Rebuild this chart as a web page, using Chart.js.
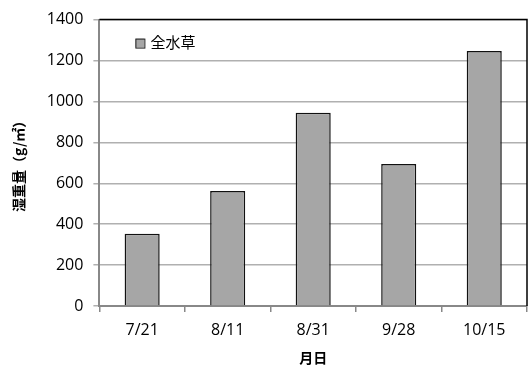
<!DOCTYPE html>
<html>
<head>
<meta charset="utf-8">
<script src="https://cdn.jsdelivr.net/npm/chart.js@4/dist/chart.umd.min.js"></script>
<style>
  html, body { margin: 0; padding: 0; background: #fff; }
  #wrap { width: 528px; height: 368px; }
</style>
</head>
<body>
<div id="wrap"><canvas id="c" width="528" height="368"></canvas></div>
<script>
// データ
var dates = ['7/21', '8/11', '8/31', '9/28', '10/15'];
var wetWeight = [353, 562, 945, 694, 1246];
var seriesName = '全水草';
var yTitle = '湿重量（g/㎡）';
var xTitle = '月日';

var tickFont = { family: '"Open Sans", "Noto Sans CJK JP", sans-serif', size: 16 };
var cjkFont = { family: '"Noto Sans CJK JP", sans-serif', size: 14, weight: 'bold' };

// 上と右の黒い枠線 + 凡例
var framePlugin = {
    id: 'frame',
    afterDraw: function (chart) {
        var a = chart.chartArea, ctx = chart.ctx;
        ctx.save();
        ctx.strokeStyle = '#000';
        ctx.lineWidth = 1.5;
        ctx.beginPath();
        ctx.moveTo(a.left, a.top);
        ctx.lineTo(a.right, a.top);
        ctx.lineTo(a.right, a.bottom);
        ctx.stroke();
        // 凡例
        var lx = a.left + 36, ly = a.top + 23;
        ctx.fillStyle = '#a6a6a6';
        ctx.fillRect(lx, ly - 4, 9, 9);
        ctx.strokeStyle = '#222';
        ctx.lineWidth = 1;
        ctx.strokeRect(lx + 0.5, ly - 3.5, 9, 9);
        ctx.fillStyle = '#000';
        ctx.font = '15px "Noto Sans CJK JP", sans-serif';
        ctx.textBaseline = 'middle';
        ctx.fillText(chart.data.datasets[0].label, lx + 15, ly);
        ctx.restore();
    }
};

new Chart(document.getElementById('c'), {
    type: 'bar',
    data: {
        labels: dates,
        datasets: [{
            label: seriesName,
            data: wetWeight,
            backgroundColor: '#a6a6a6',
            borderColor: '#111',
            borderWidth: 1.5,
            borderSkipped: 'bottom',
            barPercentage: 0.41,
            categoryPercentage: 1.0
        }]
    },
    options: {
        responsive: false,
        animation: false,
        layout: { padding: { top: 19, right: 1, bottom: 2, left: 10 } },
        plugins: {
            legend: { display: false },
            tooltip: { enabled: false }
        },
        scales: {
            x: {
                grid: { display: true, drawOnChartArea: false, drawTicks: true, offset: true, tickLength: 6, color: '#888', lineWidth: 1.5 },
                border: { color: '#888', width: 2 },
                ticks: { font: tickFont, color: '#000', padding: 9 },
                title: { display: true, text: xTitle, font: cjkFont, color: '#000', padding: { top: 0, bottom: 0 } }
            },
            y: {
                min: 0, max: 1400,
                ticks: {
                    stepSize: 200, font: tickFont, color: '#000', padding: 10,
                    callback: function (v) { return String(v); }
                },
                grid: { color: '#b0b0b0', lineWidth: 1.5, tickLength: 6 },
                border: { color: '#888', width: 2 },
                title: { display: true, text: yTitle, font: cjkFont, color: '#000', padding: { top: 0, bottom: 10 } }
            }
        }
    },
    plugins: [framePlugin]
});
</script>
</body>
</html>
